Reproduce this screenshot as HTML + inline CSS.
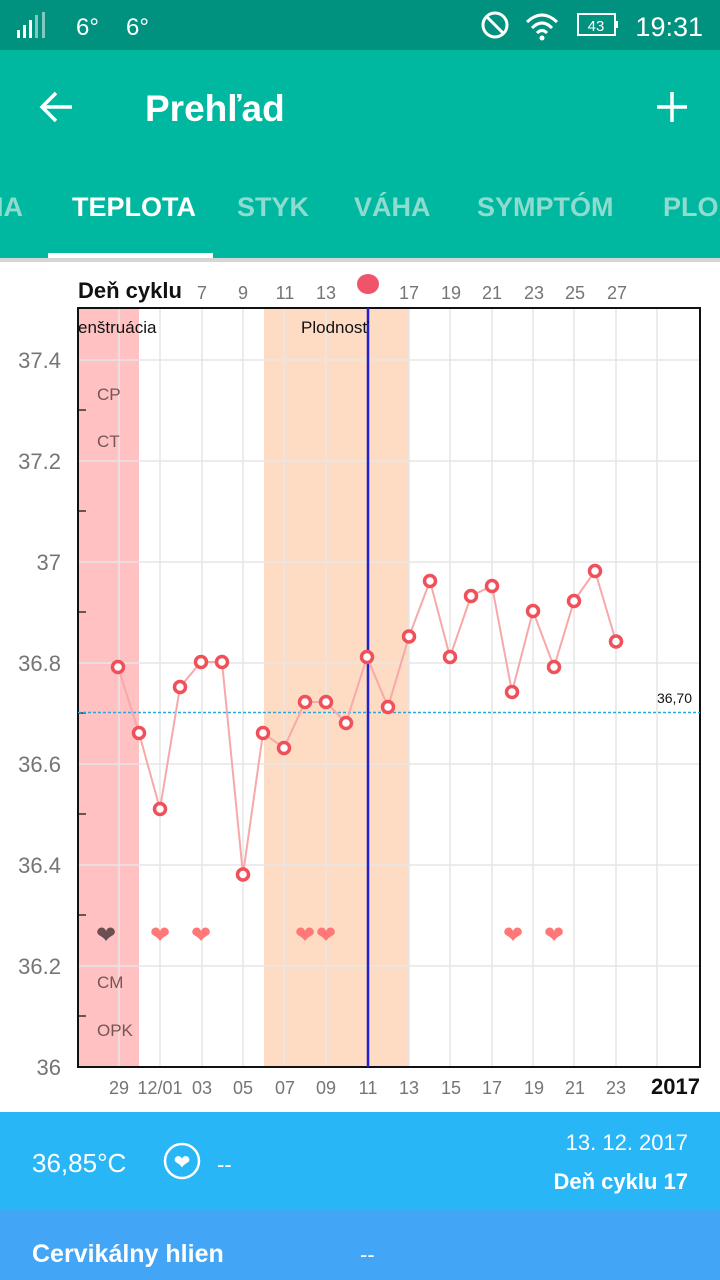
<!DOCTYPE html>
<html><head><meta charset="utf-8"><style>
body{margin:0;width:720px;height:1280px;overflow:hidden;font-family:"Liberation Sans",sans-serif;background:#fff;position:relative}
.abs{position:absolute}
</style></head><body>
<div class="abs" style="left:0;top:0;width:720px;height:50px;background:#00927f"></div>
<div class="abs" style="left:0;top:50px;width:720px;height:208px;background:#00b8a0"></div>
<div class="abs" style="left:0;top:258px;width:720px;height:4px;background:#d6d6d6"></div>
<svg class="abs" style="left:0;top:0" width="720" height="1280">
 <!-- status bar -->
 <g fill="#fff"><rect x="17" y="30" width="3" height="8"/><rect x="23" y="25" width="3" height="13"/><rect x="29" y="20" width="3" height="18"/><rect x="35" y="15" width="3" height="23" opacity=".5"/><rect x="42" y="12" width="3" height="26" opacity=".5"/></g>
 <text x="76" y="35" fill="#fff" font-size="24">6°</text><text x="126" y="35" fill="#fff" font-size="24">6°</text>
 <circle cx="495" cy="25" r="12" fill="none" stroke="#fff" stroke-width="3"/><line x1="487" y1="17" x2="503" y2="33" stroke="#fff" stroke-width="3"/>
 <path d="M527 22 Q542 8 557 22 M532 28 Q542 18 552 28 M537 33 Q542 28 547 33" fill="none" stroke="#fff" stroke-width="3"/><circle cx="542" cy="38" r="2.5" fill="#fff"/>
 <rect x="578" y="14" width="37" height="21" fill="none" stroke="#fff" stroke-width="2"/><rect x="615" y="21" width="3" height="7" fill="#fff"/>
 <text x="596" y="31" fill="#fff" font-size="15" text-anchor="middle">43</text>
 <text x="703" y="36" fill="#fff" font-size="27" text-anchor="end">19:31</text>
 <!-- app bar -->
 <path d="M72 107 H42 M56 93 L42 107 L56 121" fill="none" stroke="#fff" stroke-width="3.5"/>
 <text x="145" y="121" fill="#fff" font-size="37" font-weight="bold">Prehľad</text>
 <path d="M672 92 V122 M657 107 H687" stroke="#fff" stroke-width="3.5"/>
 <g font-size="27" font-weight="bold" fill="#8ddccf">
 <text x="-4" y="216">IA</text>
 <text x="72" y="216" fill="#fff">TEPLOTA</text>
 <text x="237" y="216">STYK</text>
 <text x="354" y="216">VÁHA</text>
 <text x="477" y="216">SYMPTÓM</text>
 <text x="663" y="216">PLOD</text></g>
 <rect x="48" y="253" width="165" height="5" fill="#fff"/>
 <!-- chart -->
 <rect x="78" y="308" width="61" height="759" fill="#ffc1c1"/>
 <rect x="264" y="308" width="145" height="759" fill="#fedcc4"/>
 <g stroke="#e6e6e6" stroke-width="1.5">
 <line x1="119" y1="308" x2="119" y2="1067"/><line x1="160" y1="308" x2="160" y2="1067"/><line x1="202" y1="308" x2="202" y2="1067"/><line x1="243" y1="308" x2="243" y2="1067"/><line x1="284" y1="308" x2="284" y2="1067"/><line x1="326" y1="308" x2="326" y2="1067"/><line x1="409" y1="308" x2="409" y2="1067"/><line x1="450" y1="308" x2="450" y2="1067"/><line x1="492" y1="308" x2="492" y2="1067"/><line x1="533" y1="308" x2="533" y2="1067"/><line x1="574" y1="308" x2="574" y2="1067"/><line x1="616" y1="308" x2="616" y2="1067"/><line x1="657" y1="308" x2="657" y2="1067"/>
 <line x1="78" y1="360" x2="700" y2="360"/><line x1="78" y1="461" x2="700" y2="461"/><line x1="78" y1="562" x2="700" y2="562"/><line x1="78" y1="663" x2="700" y2="663"/><line x1="78" y1="764" x2="700" y2="764"/><line x1="78" y1="865" x2="700" y2="865"/><line x1="78" y1="966" x2="700" y2="966"/>
 </g>
 <g stroke="#333" stroke-width="1.5"><line x1="78" y1="410" x2="86" y2="410"/><line x1="78" y1="511" x2="86" y2="511"/><line x1="78" y1="612" x2="86" y2="612"/><line x1="78" y1="713" x2="86" y2="713"/><line x1="78" y1="814" x2="86" y2="814"/><line x1="78" y1="915" x2="86" y2="915"/><line x1="78" y1="1016" x2="86" y2="1016"/></g>
 <path d="M78 308 H700 V1067 H78 Z" fill="none" stroke="#111" stroke-width="2"/>
 <line x1="78" y1="712.5" x2="700" y2="712.5" stroke="#29a8e0" stroke-width="1.5" stroke-dasharray="3,2"/>
 <text x="692" y="703" font-size="14" text-anchor="end" fill="#111">36,70</text>
 <line x1="368" y1="308" x2="368" y2="1067" stroke="#2020d0" stroke-width="2.5"/>
 <ellipse cx="368" cy="284" rx="11" ry="10" fill="#f0546a"/>
 <text x="78" y="333" font-size="17" fill="#111">enštruácia</text>
 <text x="301" y="333" font-size="17" fill="#111">Plodnosť</text>
 <g font-size="17" fill="#755">
 <text x="97" y="400">CP</text><text x="97" y="447">CT</text><text x="97" y="988">CM</text><text x="97" y="1036">OPK</text></g>
 <g font-size="22" fill="#757575" text-anchor="end">
 <text x="61" y="368">37.4</text><text x="61" y="469">37.2</text><text x="61" y="570">37</text><text x="61" y="671">36.8</text><text x="61" y="772">36.6</text><text x="61" y="873">36.4</text><text x="61" y="974">36.2</text><text x="61" y="1075">36</text></g>
 <text x="78" y="298" font-size="22" font-weight="bold" fill="#111">Deň cyklu</text>
 <g font-size="18" fill="#757575" text-anchor="middle">
 <text x="202" y="299">7</text><text x="243" y="299">9</text><text x="285" y="299">11</text><text x="326" y="299">13</text><text x="409" y="299">17</text><text x="451" y="299">19</text><text x="492" y="299">21</text><text x="534" y="299">23</text><text x="575" y="299">25</text><text x="617" y="299">27</text>
 <text x="119" y="1094">29</text><text x="160" y="1094">12/01</text><text x="202" y="1094">03</text><text x="243" y="1094">05</text><text x="285" y="1094">07</text><text x="326" y="1094">09</text><text x="368" y="1094">11</text><text x="409" y="1094">13</text><text x="451" y="1094">15</text><text x="492" y="1094">17</text><text x="534" y="1094">19</text><text x="575" y="1094">21</text><text x="616" y="1094">23</text></g>
 <text x="700" y="1094" font-size="22" font-weight="bold" fill="#111" text-anchor="end">2017</text>
 <g font-size="24" text-anchor="middle" fill="#f77">
 <text x="106" y="943" fill="#6a5050">❤</text><text x="160" y="943">❤</text><text x="201" y="943">❤</text><text x="305" y="943">❤</text><text x="326" y="943">❤</text><text x="513" y="943">❤</text><text x="554" y="943">❤</text></g>
 <polyline fill="none" stroke="#f7a8a8" stroke-width="2" points="118,667 139,733 160,809 180,687 201,662 222,662 243,874.5 263,733 284,748 305,702 326,702 346,723 367,657 388,707 409,636.5 430,581 450,657 471,596 492,586 512,692 533,611 554,667 574,601 595,571 616,641.5"/>
 <g fill="#fff" stroke="#f0505a" stroke-width="3.5">
 <circle cx="118" cy="667" r="5.5"/><circle cx="139" cy="733" r="5.5"/><circle cx="160" cy="809" r="5.5"/><circle cx="180" cy="687" r="5.5"/><circle cx="201" cy="662" r="5.5"/><circle cx="222" cy="662" r="5.5"/><circle cx="243" cy="874.5" r="5.5"/><circle cx="263" cy="733" r="5.5"/><circle cx="284" cy="748" r="5.5"/><circle cx="305" cy="702" r="5.5"/><circle cx="326" cy="702" r="5.5"/><circle cx="346" cy="723" r="5.5"/><circle cx="367" cy="657" r="5.5"/><circle cx="388" cy="707" r="5.5"/><circle cx="409" cy="636.5" r="5.5"/><circle cx="430" cy="581" r="5.5"/><circle cx="450" cy="657" r="5.5"/><circle cx="471" cy="596" r="5.5"/><circle cx="492" cy="586" r="5.5"/><circle cx="512" cy="692" r="5.5"/><circle cx="533" cy="611" r="5.5"/><circle cx="554" cy="667" r="5.5"/><circle cx="574" cy="601" r="5.5"/><circle cx="595" cy="571" r="5.5"/><circle cx="616" cy="641.5" r="5.5"/></g>
 <!-- bottom -->
 <rect x="0" y="1112" width="720" height="98" fill="#29b6f6"/>
 <rect x="0" y="1210" width="720" height="70" fill="#42a5f5"/>
 <text x="32" y="1172" font-size="26" fill="#fff">36,85°C</text>
 <circle cx="182" cy="1161" r="17" fill="none" stroke="#fff" stroke-width="2.5"/>
 <text x="182" y="1169" font-size="20" fill="#fff" text-anchor="middle">❤</text>
 <text x="217" y="1172" font-size="22" fill="#fff">--</text>
 <text x="688" y="1150" font-size="22" fill="#fff" text-anchor="end">13. 12. 2017</text>
 <text x="688" y="1189" font-size="22" font-weight="bold" fill="#fff" text-anchor="end">Deň cyklu 17</text>
 <text x="32" y="1262" font-size="25" font-weight="bold" fill="#fff">Cervikálny hlien</text>
 <text x="360" y="1262" font-size="22" fill="#fff">--</text>
</svg>
</body></html>
